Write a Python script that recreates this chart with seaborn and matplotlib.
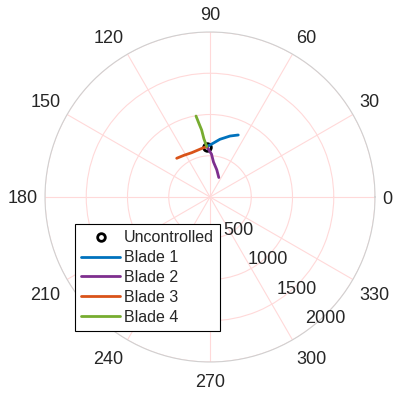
import numpy as np
import matplotlib
matplotlib.use("Agg")
from matplotlib import pyplot as plt
import seaborn as sns

sns.set_style("white")
plt.rcParams['font.family'] = ['Liberation Sans', 'DejaVu Sans']

# angles in degrees, magnitudes
uncontrolled_theta = [93.7]
uncontrolled_r = [613]

blade1_theta = [93.7, 90.0, 80.2, 71.8, 65.5]
blade1_r = [613, 630, 710, 778, 826]
blade2_theta = [93.7, 88.0, 84.3, 76.0, 65.7]
blade2_r = [613, 520, 426, 340, 259]
blade3_theta = [93.7, 100.0, 112.4, 122.0, 130.7]
blade3_r = [613, 596, 581, 596, 619]
blade4_theta = [93.7, 96.0, 97.1, 98.6, 99.8]
blade4_r = [613, 710, 818, 905, 996]

r_ticks = [500, 1000, 1500, 2000]
theta_ticks = list(range(0, 360, 30))

labels = ['Blade 1', 'Blade 2', 'Blade 3', 'Blade 4']
colors = ['#0072BD', '#7E2F8E', '#D95319', '#77AC30']
thetas = [blade1_theta, blade2_theta, blade3_theta, blade4_theta]
rs = [blade1_r, blade2_r, blade3_r, blade4_r]

fig = plt.figure(figsize=(3.96, 3.96), dpi=100)
ax = fig.add_axes([45/396, 1-362/396, 330/396, 330/396], projection='polar')

ax.plot(np.deg2rad(uncontrolled_theta), uncontrolled_r, 'o', mfc='none', mec='k',
        mew=2, ms=5.5, label='Uncontrolled', zorder=3)
for th, r, c, lab in zip(thetas, rs, colors, labels):
    sns.lineplot(x=np.deg2rad(th), y=r, ax=ax, color=c, linewidth=2, label=lab,
                 sort=False, estimator=None, zorder=4)
ax.set_xlabel('')
ax.set_ylabel('')

ax.set_ylim(0, r_ticks[-1])
ax.set_yticks(r_ticks)
ax.set_yticklabels([])
for rt in r_ticks:
    ax.annotate(str(rt), xy=(np.deg2rad(-45.5), rt), xytext=(0, -1.5),
                textcoords='offset points', ha='center', va='center_baseline',
                fontsize=13, color='#262626', annotation_clip=False)

# theta labels placed edge-wise outside the circle (MATLAB style)
ax.set_xticks(np.deg2rad(theta_ticks))
ax.set_xticklabels([])
gap = 5.5
for a in theta_ticks:
    c, s = np.cos(np.deg2rad(a)), np.sin(np.deg2rad(a))
    ha = 'left' if c > 0.1 else ('right' if c < -0.1 else 'center')
    va = 'bottom' if s > 0.1 else ('top' if s < -0.1 else 'center_baseline')
    dy = gap * s - (3 if s < -0.1 else 0)
    ax.annotate(str(a), xy=(np.deg2rad(a), r_ticks[-1]), xytext=(gap * c, dy),
                textcoords='offset points', ha=ha, va=va, fontsize=13,
                color='#262626', annotation_clip=False)

ax.grid(True, color='#ffd9d9', linewidth=0.8)
ax.spines['polar'].set_color('#d0d0d0')
ax.spines['polar'].set_linewidth(0.8)

leg = ax.legend(loc='lower left', bbox_to_anchor=(75/396, 1-331/396),
                bbox_transform=fig.transFigure, fontsize=11.5, frameon=True,
                fancybox=False, edgecolor='k', framealpha=1, borderaxespad=0,
                labelspacing=0.3, handlelength=2.4, handletextpad=0.25,
                borderpad=0.4)
leg.get_frame().set_linewidth(0.8)

fig.savefig('out.png', dpi=100)
